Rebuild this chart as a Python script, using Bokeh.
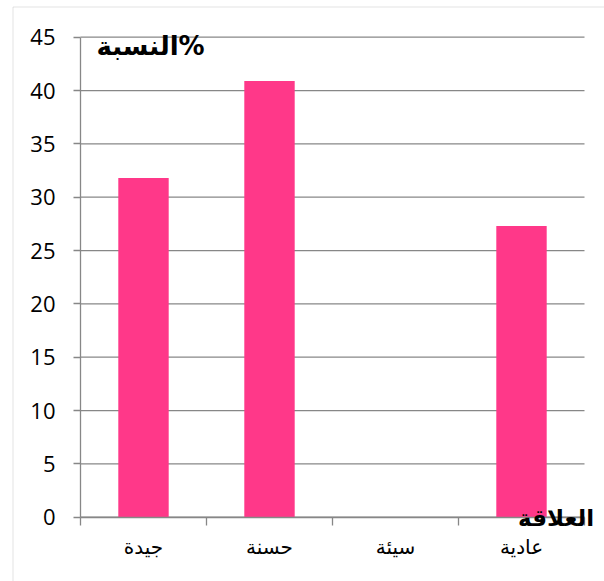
from bokeh.plotting import figure
from bokeh.models import (Range1d, LinearAxis, FixedTicker, Label, BoxAnnotation)
from bokeh.embed import file_html
from bokeh.resources import INLINE

# Relationship quality categories and their share in percent
categories = ["جيدة", "حسنة", "سيئة", "عادية"]
percentages = [31.8, 40.9, 0.0, 27.3]
y_ticks = [0, 5, 10, 15, 20, 25, 30, 35, 40, 45]

y_title = "النسبة%"
x_title = "العلاقة"

BAR_COLOR = "#FF3889"
GRID_COLOR = "#878787"
FRAME_COLOR = "#9f9f9f"
ARABIC_FONT = "DejaVu Sans"
NUM_FONT = "Open Sans"

# canvas geometry: the data frame fills the whole canvas so that
# axes and titles can be placed freely around the value area
W, H = 604, 581
AXIS_X_PX = 80          # where the value axis sits
BASE_Y_PX = 516.7       # where 0 % sits
CAT_PX = 126            # width of one category slot
UNIT_PX = 480 / 45      # pixels per percent

n = len(categories)
y_max = y_ticks[-1]
x_range = Range1d(-AXIS_X_PX / CAT_PX, (W - AXIS_X_PX) / CAT_PX)
y_range = Range1d(-(H - BASE_Y_PX) / UNIT_PX,
                  y_max + (BASE_Y_PX - y_max * UNIT_PX) / UNIT_PX)

p = figure(
    width=W, height=H,
    x_range=x_range, y_range=y_range,
    x_axis_location=None, y_axis_location=None,
    output_backend="svg", toolbar_location=None,
    min_border=0,
)
p.outline_line_color = None
p.background_fill_color = "white"
p.border_fill_color = "white"
p.xgrid.visible = False
p.ygrid.visible = False

# category slots: bar centred in each slot
slot_centres = [i + 0.5 for i in range(n)]

# horizontal gridlines across the category slots
p.segment(x0=[0] * len(y_ticks), y0=y_ticks, x1=[n] * len(y_ticks), y1=y_ticks,
          line_color=GRID_COLOR, line_width=1.3)

# bars
p.vbar(x=slot_centres, top=percentages, width=0.4,
       fill_color=BAR_COLOR, line_color=None)

# value axis with outward ticks
yaxis = LinearAxis(ticker=FixedTicker(ticks=y_ticks), fixed_location=0,
                   bounds=(0, y_max))
yaxis.axis_line_color = GRID_COLOR
yaxis.axis_line_width = 1.3
yaxis.major_tick_line_color = GRID_COLOR
yaxis.major_tick_line_width = 1.3
yaxis.major_tick_out = 7
yaxis.major_tick_in = 0
yaxis.minor_tick_line_color = None
yaxis.major_label_standoff = 18
yaxis.major_label_text_font = NUM_FONT
yaxis.major_label_text_font_size = "22px"
yaxis.major_label_text_color = "black"
p.add_layout(yaxis, "left")

# category axis line with ticks on the slot boundaries
boundaries = list(range(n + 1))
x_tick_axis = LinearAxis(ticker=FixedTicker(ticks=boundaries), fixed_location=0,
                         bounds=(0, n))
x_tick_axis.major_label_overrides = {b: "" for b in boundaries}
x_tick_axis.axis_line_color = GRID_COLOR
x_tick_axis.axis_line_width = 1.3
x_tick_axis.major_tick_line_color = GRID_COLOR
x_tick_axis.major_tick_line_width = 1.3
x_tick_axis.major_tick_out = 8
x_tick_axis.major_tick_in = 0
x_tick_axis.minor_tick_line_color = None
p.add_layout(x_tick_axis, "below")

# category names centred under each bar
x_label_axis = LinearAxis(ticker=FixedTicker(ticks=slot_centres), fixed_location=0)
x_label_axis.major_label_overrides = {c: name for c, name in zip(slot_centres, categories)}
x_label_axis.axis_line_color = None
x_label_axis.major_tick_line_color = None
x_label_axis.major_tick_out = 0
x_label_axis.major_tick_in = 0
x_label_axis.minor_tick_line_color = None
x_label_axis.major_label_standoff = 18
x_label_axis.major_label_text_font = ARABIC_FONT
x_label_axis.major_label_text_font_size = "20px"
x_label_axis.major_label_text_color = "black"
p.add_layout(x_label_axis, "below")

# axis titles in the chart corners
p.add_layout(Label(x=0.556, y=44.2, text=y_title, text_align="center",
                   text_baseline="middle", text_font=ARABIC_FONT,
                   text_font_size="26px", text_font_style="bold",
                   text_color="black"))
p.add_layout(Label(x=3.774, y=-0.08, text=x_title, text_align="center",
                   text_baseline="middle", text_font=ARABIC_FONT,
                   text_font_size="23px", text_font_style="bold",
                   text_color="black"))

# chart area frame
p.add_layout(BoxAnnotation(left=12.5, right=W + 50, top=6.5, bottom=H + 50,
                           left_units="canvas", right_units="canvas",
                           top_units="canvas", bottom_units="canvas",
                           fill_color=None, line_color=FRAME_COLOR,
                           line_width=1))

open("out.html", "w").write(file_html(p, INLINE))
